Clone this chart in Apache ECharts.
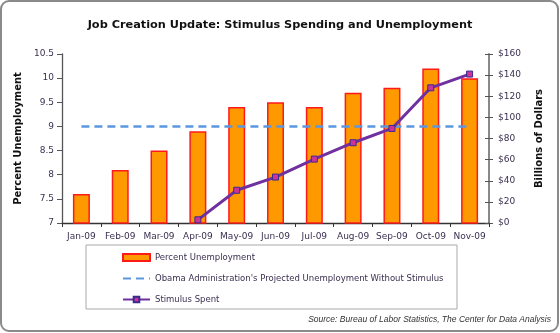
<!DOCTYPE html>
<html>
<head>
<meta charset="utf-8">
<script src="https://cdn.jsdelivr.net/npm/echarts@6/dist/echarts.min.js"></script>
<style>html,body{margin:0;padding:0;background:#fff}#c{width:560px;height:333px}</style>
</head>
<body>
<div id="c"></div>
<script>
const categories = ['Jan-09','Feb-09','Mar-09','Apr-09','May-09','Jun-09','Jul-09','Aug-09','Sep-09','Oct-09','Nov-09'];
const unemployment = [7.6, 8.1, 8.5, 8.9, 9.4, 9.5, 9.4, 9.7, 9.8, 10.2, 10.0];
const projected = [9, 9, 9, 9, 9, 9, 9, 9, 9, 9, 9];
const stimulus = [null, null, null, 3, 31, 43.5, 60.5, 76, 89.5, 128, 141];
const leftTicks = {min: 7, max: 10.5, interval: 0.5};
const rightTicks = {min: 0, max: 160, interval: 20};

const chart = echarts.init(document.getElementById('c'), null, {renderer: 'canvas'});
const labelFont = {fontFamily: 'DejaVu Sans', fontSize: 9, color: '#3a3050'};
const projName = "Obama Administration's Projected Unemployment Without Stimulus";
chart.setOption({
  backgroundColor: '#fff',
  animation: false,
  title: {
    text: 'Job Creation Update: Stimulus Spending and Unemployment',
    left: 'center', top: 15,
    textStyle: {fontFamily: 'DejaVu Sans', fontWeight: 'bold', fontSize: 11.3, color: '#111'}
  },
  grid: {left: 62, right: 71, top: 54, bottom: 110},
  legend: {
    orient: 'vertical', left: 117, top: 248, itemWidth: 27, itemHeight: 7, itemGap: 12,
    textStyle: {fontFamily: 'DejaVu Sans', fontSize: 8.5, color: '#3a3050'},
    data: [
      {name: 'Percent Unemployment', icon: 'rect'},
      {name: projName, itemStyle: {color: 'rgba(0,0,0,0)', borderWidth: 0}},
      {name: 'Stimulus Spent'}
    ]
  },
  xAxis: {
    type: 'category', data: categories, boundaryGap: true,
    axisLine: {lineStyle: {color: '#333', width: 1.3}},
    axisTick: {show: true, length: 4, lineStyle: {color: '#333'}},
    axisLabel: Object.assign({margin: 9, interval: 0}, labelFont)
  },
  yAxis: [
    {
      type: 'value', position: 'left', min: leftTicks.min, max: leftTicks.max, interval: leftTicks.interval,
      name: 'Percent Unemployment', nameLocation: 'middle', nameGap: 38, nameRotate: 90,
      nameTextStyle: {fontFamily: 'DejaVu Sans', fontWeight: 'bold', fontSize: 10, color: '#111'},
      axisLine: {show: true, lineStyle: {color: '#555', width: 1.3}},
      axisTick: {show: true, length: 5, lineStyle: {color: '#555'}},
      splitLine: {show: false},
      axisLabel: Object.assign({margin: 8}, labelFont)
    },
    {
      type: 'value', position: 'right', min: rightTicks.min, max: rightTicks.max, interval: rightTicks.interval,
      name: 'Billions of Dollars', nameLocation: 'middle', nameGap: 45, nameRotate: 90,
      nameTextStyle: {fontFamily: 'DejaVu Sans', fontWeight: 'bold', fontSize: 10, color: '#111'},
      axisLine: {show: true, lineStyle: {color: '#888', width: 2}},
      axisTick: {show: true, length: 4, lineStyle: {color: '#555'}},
      splitLine: {show: false},
      axisLabel: Object.assign({margin: 9, formatter: '${value}'}, labelFont)
    },
    {
      type: 'value', position: 'right', min: rightTicks.min, max: rightTicks.max, interval: rightTicks.interval,
      axisLine: {show: false},
      axisTick: {show: true, inside: true, length: 4, lineStyle: {color: '#555'}},
      splitLine: {show: false},
      axisLabel: {show: false}
    }
  ],
  series: [
    {
      name: 'Percent Unemployment', type: 'bar', data: unemployment, yAxisIndex: 0, barWidth: 17,
      itemStyle: {color: '#FF9900', borderColor: '#FF1A1A', borderWidth: 1.5}
    },
    {
      name: projName, type: 'line', data: projected, yAxisIndex: 0,
      symbol: 'none', lineStyle: {color: '#5A97E0', width: 2.5, type: [8, 5]}, itemStyle: {color: '#5A97E0'}
    },
    {
      name: 'Stimulus Spent', type: 'line', data: stimulus, yAxisIndex: 1, connectNulls: false,
      symbol: 'rect', symbolSize: 6,
      lineStyle: {color: '#7030A0', width: 3},
      itemStyle: {color: '#CC3399', borderColor: '#3A2A90', borderWidth: 1}
    }
  ],
  graphic: [
    {type: 'rect', shape: {x: 86, y: 245, width: 371, height: 64}, style: {fill: 'none', stroke: '#aaa', lineWidth: 1}, silent: true, z: -1},
    {type: 'rect', shape: {x: 1, y: 1, width: 557, height: 330, r: 8}, style: {fill: 'none', stroke: '#8a8a8a', lineWidth: 2}, silent: true},
    {type: 'text', right: 9, top: 315, style: {text: 'Source: Bureau of Labor Statistics, The Center for Data Analysis', font: 'italic 8.5px "Liberation Sans"', fill: '#333'}}
  ]
});
</script>
</body>
</html>
